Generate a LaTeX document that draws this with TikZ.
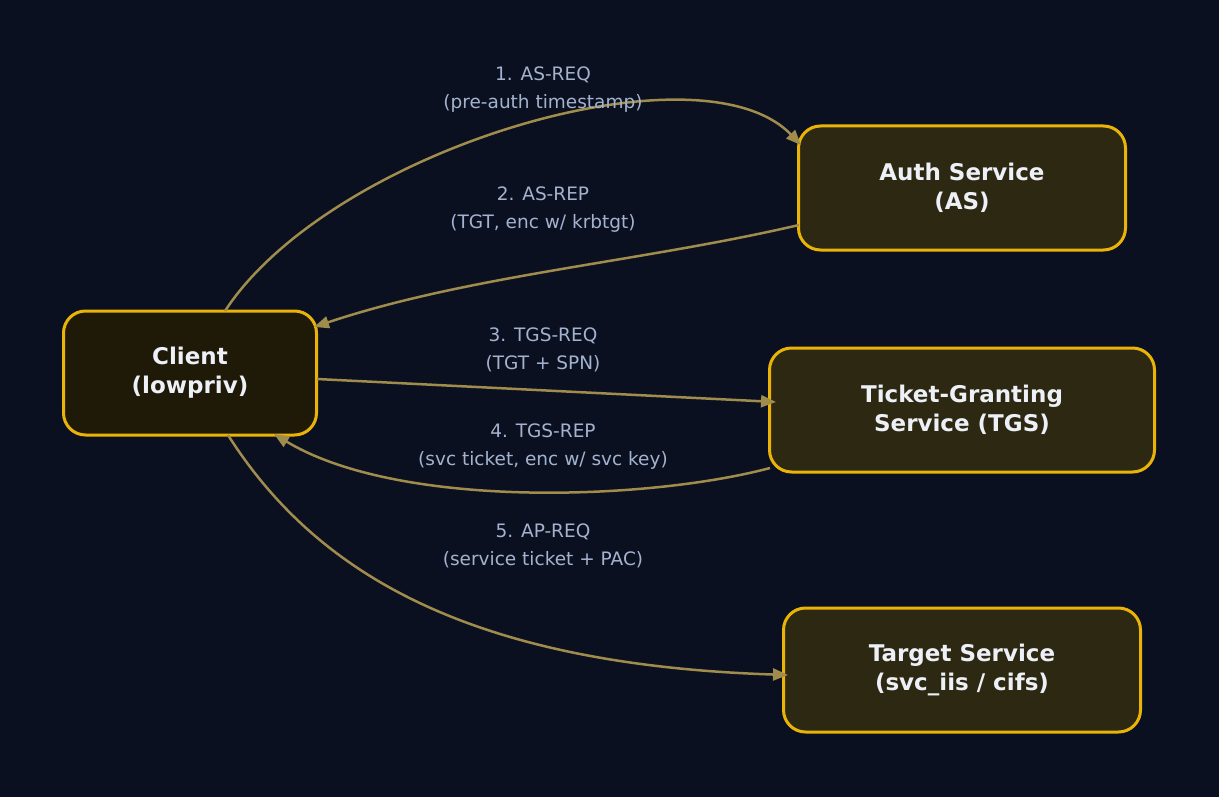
\documentclass[tikz,border=0pt]{standalone}
\usepackage{fontspec}
\setmainfont{DejaVu Sans}
\usetikzlibrary{arrows.meta}
\definecolor{bg}{HTML}{0B1020}
\definecolor{bd}{HTML}{EAB308}
\definecolor{fa}{HTML}{1F1A08}
\definecolor{fb}{HTML}{2D2812}
\definecolor{ed}{HTML}{A08C4C}
\definecolor{lb}{HTML}{A3B3CF}
\definecolor{tx}{HTML}{EEF0F8}
\begin{document}
\begin{tikzpicture}[x=1pt,y=-1pt,
  box/.style={draw=bd,line width=3pt,rounded corners=22pt,fill=fb,text=tx,align=center,
    font=\fontsize{23}{29}\selectfont\bfseries,inner sep=0pt},
  ed/.style={draw=ed,line width=2.5pt,-{Triangle[length=15pt,width=12pt]}},
  lab/.style={text=lb,align=center,font=\fontsize{18.5}{28}\selectfont}]
\fill[bg] (0,0) rectangle (1219,797);
\useasboundingbox (0,0) rectangle (1219,797);
\node[box,fill=fa,minimum width=253pt,minimum height=124pt] (c) at (190,373) {Client\\(lowpriv)};
\node[box,minimum width=327pt,minimum height=124pt] (as) at (962,188) {Auth Service\\(AS)};
\node[box,minimum width=385pt,minimum height=124pt] (tgs) at (962,410) {Ticket-Granting\\Service (TGS)};
\node[box,minimum width=357pt,minimum height=124pt] (ts) at (962,670) {Target Service\\(svc\_iis / cifs)};
\coordinate (c1) at (225,311); \coordinate (a1) at (801,145);
\draw[ed] (c1) .. controls (330,150) and (700,40) .. (a1);
\coordinate (a2) at (799,225); \coordinate (c2) at (314,327);
\draw[ed] (a2) .. controls (640,262) and (470,275) .. (c2);
\coordinate (c3) at (317,379); \coordinate (t3) at (776,402);
\draw[ed] (c3) -- (t3);
\coordinate (t4) at (770,468); \coordinate (c4) at (274,434);
\draw[ed] (t4) .. controls (650,500) and (400,510) .. (c4);
\coordinate (c5) at (228,435); \coordinate (s5) at (788,675);
\draw[ed] (c5) .. controls (320,580) and (480,665) .. (s5);
\node[lab] (l1) at (543,90) {1. AS-REQ\\(pre-auth timestamp)};
\node[lab] (l2) at (543,210) {2. AS-REP\\(TGT, enc w/ krbtgt)};
\node[lab] (l3) at (543,350) {3. TGS-REQ\\(TGT + SPN)};
\node[lab] (l4) at (543,447) {4. TGS-REP\\(svc ticket, enc w/ svc key)};
\node[lab] (l5) at (543,546) {5. AP-REQ\\(service ticket + PAC)};
\end{tikzpicture}
\end{document}
